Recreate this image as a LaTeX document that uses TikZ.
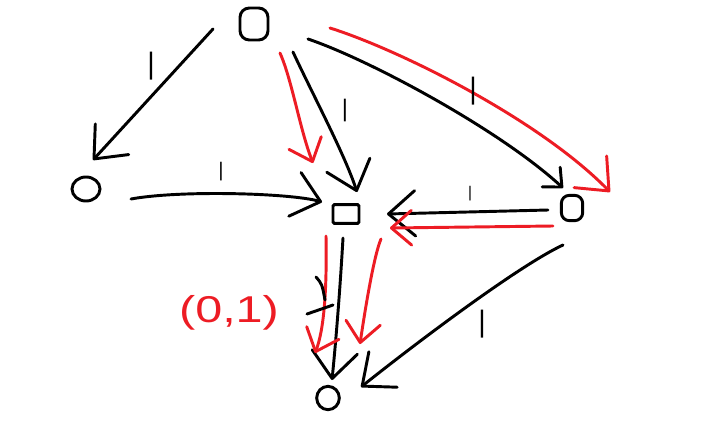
\documentclass[tikz,border=0pt]{standalone}
\usepackage{fontspec}
\usetikzlibrary{arrows.meta,shapes.geometric}
\newfontfamily\dejavu{DejaVu Sans}
\newfontfamily\libsans{Liberation Sans}
\definecolor{paintred}{RGB}{237,28,36}
\newcommand\tickfont[1]{\dejavu\fontsize{#1}{#1}\selectfont}
\tikzset{
  blk/.style={draw=black, line width=2.2pt, line cap=round, line join=round},
  rd/.style={draw=paintred, line width=2.2pt, line cap=round, line join=round},
  bighd/.style={-{Straight Barb[round,length=20pt,width=34pt]}},
  medhd/.style={-{Straight Barb[round,length=15pt,width=26pt]}},
  smallhd/.style={-{Straight Barb[round,length=11pt,width=20pt]}},
  obj/.style={draw=black, line width=2.2pt, inner sep=0pt},
  tickmark/.style={inner sep=0pt, text=black, font=\tickfont{#1}},
  redlabel/.style={inner sep=0pt, text=paintred, font=\libsans\fontsize{28}{28}\selectfont, xscale=1.3}
}
\begin{document}
\begin{tikzpicture}[x=0.75pt,y=-0.75pt]
\useasboundingbox[fill=white] (0,0) rectangle (706,443);
% objects
\node[obj, rounded corners=7pt, minimum width=21pt, minimum height=24pt] (T) at (254,24) {};
\node[obj, ellipse, minimum width=21pt, minimum height=18pt] (L) at (86,189) {};
\node[obj, rounded corners=1pt, minimum width=19.5pt, minimum height=14pt] (C) at (346,214) {};
\node[obj, rounded corners=6pt, minimum width=16pt, minimum height=19pt] (R) at (572,208) {};
\node[obj, ellipse, minimum width=17pt, minimum height=17.5pt] (B) at (328,398) {};
% black arrows
\draw[blk,bighd] ([shift={(-41,5)}]T.center) -- ([shift={(7,-29)}]L.center);
\draw[blk,bighd] ([shift={(39,28)}]T.center) .. controls (313,95) and (345,155) .. ([shift={(11,-22)}]C.center);
\draw[blk,smallhd] ([shift={(54,15)}]T.center) .. controls (370,60) and (500,130) .. ([shift={(-9,-20)}]R.center);
\draw[blk,bighd] ([shift={(45,10)}]L.center) .. controls (180,190) and (290,193) .. ([shift={(-24,-12)}]C.center);
\draw[blk,bighd] ([shift={(-24,2)}]R.center) -- ([shift={(41,0)}]C.center);
\draw[blk,bighd] ([shift={(-3,24)}]C.center) .. controls (340,290) and (336,340) .. ([shift={(4,-18)}]B.center);
\draw[blk,bighd] ([shift={(-9,37)}]R.center) .. controls (520,265) and (420,340) .. ([shift={(33,-11)}]B.center);
% red arrows
\draw[rd,bighd] ([shift={(76,4)}]T.center) .. controls (400,50) and (540,120) .. ([shift={(38,-16)}]R.center);
\draw[rd,medhd] ([shift={(26,29)}]T.center) .. controls (292,80) and (300,130) .. ([shift={(-33,-51)}]C.center);
\draw[rd,medhd] ([shift={(-19,18)}]R.center) -- ([shift={(44,14)}]C.center);
\draw[rd,medhd] ([shift={(-20,22)}]C.center) .. controls (327,290) and (324,330) .. ([shift={(-13,-45)}]B.center);
\draw[rd,medhd] ([shift={(35,25)}]C.center) .. controls (374,255) and (365,310) .. ([shift={(32,-54)}]B.center);
% extra black strokes by the vertical arrow
\draw[blk] (316,277) .. controls (322,284) .. (325,300);
\draw[blk] (307,314) -- (333,305);
% labels
\node[tickmark=21pt] (k1) at (151,66) {|};
\node[tickmark=17pt] (k2) at (345,111) {|};
\node[tickmark=21pt] (k3) at (473,91) {|};
\node[tickmark=14pt] (k4) at (221,172) {|};
\node[tickmark=11pt] (k5) at (470,194) {|};
\node[tickmark=21pt] (k6) at (482,324) {|};
\node[redlabel] (lab) at (229,313) {(0,1)};
\end{tikzpicture}
\end{document}
